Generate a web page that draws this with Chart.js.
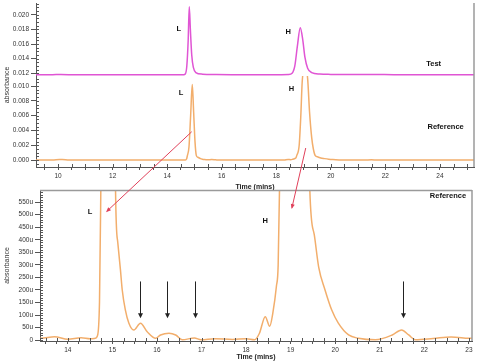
<!DOCTYPE html>
<html lang="en">
<head>
<meta charset="UTF-8">
<title>Test vs Reference chromatogram</title>
<script src="https://cdn.jsdelivr.net/npm/chart.js@4"></script>
<style>
  body { margin: 0; background: #fff; }
  #wrap { position: relative; width: 487px; height: 364px; overflow: hidden; }
  canvas { position: absolute; left: 0; }
</style>
</head>
<body>
<div id="wrap">
  <canvas id="testChart" width="487" height="80" style="top:0px"></canvas>
  <canvas id="refChart" width="487" height="118" style="top:76px"></canvas>
  <canvas id="zoomChart" width="487" height="179" style="top:185px"></canvas>
  <canvas id="overlay" width="487" height="364" style="top:0px"></canvas>
</div>
<script>
// --- Test trace (absorbance) ---
const testTime = [9.19, 9.8, 10.1, 10.6, 11.5, 12.5, 13.5, 14.55, 14.66, 14.72, 14.77, 14.81, 14.85, 14.90, 14.96, 15.05, 15.30, 15.8, 16.5, 17.5, 18.2, 18.45, 18.58, 18.68, 18.77, 18.88, 18.97, 19.05, 19.15, 19.30, 19.60, 20.0, 20.8, 21.5, 22.3, 23.2, 24.2, 25.25];
const testAbs  = [0.01180, 0.01181, 0.01183, 0.01180, 0.01179, 0.01181, 0.01180, 0.01180, 0.01190, 0.01300, 0.01650, 0.02110, 0.01800, 0.01450, 0.01280, 0.01210, 0.01188, 0.01183, 0.01181, 0.01180, 0.01180, 0.01182, 0.01200, 0.01300, 0.01560, 0.01822, 0.01660, 0.01420, 0.01270, 0.01210, 0.01190, 0.01185, 0.01182, 0.01184, 0.01181, 0.01180, 0.01181, 0.01180];

// --- Reference trace (micro absorbance units) ---
const refTime = [9.19, 9.8, 10.05, 10.15, 10.4, 11.5, 12.5, 13.4, 13.7, 14.0, 14.3, 14.5,
  14.62, 14.66, 14.71, 14.74, 14.80, 14.86, 14.92, 14.97, 15.02, 15.07,
  15.12, 15.18, 15.22, 15.29, 15.37, 15.48, 15.63, 15.78, 15.97,
  16.08, 16.27, 16.42, 16.57, 16.84, 16.99,
  17.3, 17.7, 18.0, 18.19,
  18.30, 18.43, 18.53, 18.60, 18.68, 18.72, 18.75,
  18.84, 18.90, 18.95, 19.05, 19.15, 19.22, 19.30, 19.36, 19.43,
  19.53, 19.63, 19.77, 19.92, 20.07, 20.30, 20.52, 20.90,
  21.28, 21.49, 21.65, 21.80,
  22.2, 22.6, 23.0, 23.6, 24.5, 25.25];
const refMicroAU = [6, 8, 90, 90, 8, 6, 8, 8, 14, 4, 10, 6,
  8, 16, 150, 600, 1800, 6000, 10200, 6500, 2500, 600,
  390, 281, 201, 121, 68, 41, 68, 34, 8,
  21, 28, 21, 2, 9, 2,
  6, 3, 6, 2,
  28, 94, 56, 108, 214, 300, 600,
  2000, 6000, 10500, 12800, 11000, 6500, 3000, 1500, 600,
  420, 290, 201, 121, 68, 21, 8, 2,
  21, 41, 21, 2,
  7, 13, 8, 6, 8, 6];

// peak labels (time, value on that panel)
const testNotes = [
  { text: 'L', t: 14.43, v: 0.01804 },
  { text: 'H', t: 18.44, v: 0.01759 },
  { text: 'Test', t: 23.77, v: 0.01324 }
];
const refNotes = [
  { text: 'L', t: 14.51, v: 0.0091 },
  { text: 'H', t: 18.56, v: 0.00955 },
  { text: 'Reference', t: 24.21, v: 0.00443 }
];
const zoomNotes = [
  { text: 'L', t: 14.50, v: 509 },
  { text: 'H', t: 18.43, v: 476 },
  { text: 'Reference', t: 22.53, v: 574 }
];
// minor peaks marked with arrows in the zoomed view
const minorPeakTimes = [15.63, 16.22, 16.85, 21.53];
// red links: [time, abs on top panel, time, microAU on zoom panel]
const linkL = [14.90, 0.00383, 14.88, 514];
const linkH = [19.08, 0.00163, 19.03, 528];

const FONT = '"Liberation Sans", Arial, sans-serif';
Chart.defaults.font.family = FONT;

function isMajor(v, m) { return Math.abs(v / m - Math.round(v / m)) < 1e-6; }

function yAxis(min, max, step, major, fmt, width, title) {
  return {
    type: 'linear', min: min, max: max,
    border: { color: '#555', width: 1 },
    grid: { drawOnChartArea: false, tickLength: 5, tickColor: c => (c.tick && isMajor(c.tick.value, major)) ? '#555' : 'rgba(0,0,0,0)' },
    ticks: { stepSize: step, autoSkip: false, includeBounds: false, padding: 2, color: '#333',
      font: { size: 6.5 }, callback: v => isMajor(v, major) ? fmt(v) : '' },
    title: { display: !!title, text: title || '', color: '#333', font: { size: 7 }, padding: { top: 3, bottom: 0 } },
    afterFit: s => { s.width = width; s.paddingTop = 0; s.paddingBottom = 0; }
  };
}

function xAxis(min, max, step, major, height) {
  return {
    type: 'linear', min: min, max: max,
    border: { color: '#555', width: 1 },
    grid: { drawOnChartArea: false, tickLength: 3, tickColor: '#555' },
    ticks: { stepSize: step, autoSkip: false, includeBounds: false, maxRotation: 0, padding: 2, color: '#333',
      font: { size: 6.5 }, callback: v => isMajor(v, major) ? String(Math.round(v)) : '' },
    title: { display: true, text: 'Time (mins)', color: '#222', font: { size: 7, weight: 'bold' }, padding: { top: 2, bottom: 3 } },
    afterFit: s => { s.height = height; s.paddingLeft = 0; s.paddingRight = 0; }
  };
}

// short inner tick marks on every tick
const innerTicks = {
  id: 'innerTicks',
  afterDraw(chart) {
    const ctx = chart.ctx;
    ctx.save();
    ctx.strokeStyle = '#555';
    ctx.lineWidth = 1;
    Object.values(chart.scales).forEach(s => {
      if (!s.options.display) return;
      s.ticks.forEach(tk => {
        const p = Math.round(s.getPixelForValue(tk.value)) + 0.5;
        ctx.beginPath();
        if (s.isHorizontal()) { ctx.moveTo(p, s.top); ctx.lineTo(p, s.top - 3); }
        else { ctx.moveTo(s.right, p); ctx.lineTo(s.right + 3, p); }
        ctx.stroke();
      });
    });
    ctx.restore();
  }
};

function frame(withTop) {
  return {
    id: 'frame',
    afterDraw(chart) {
      const { ctx, chartArea: a } = chart;
      ctx.save();
      ctx.strokeStyle = '#9a9a9a';
      ctx.lineWidth = 1.5;
      ctx.beginPath();
      if (withTop) { ctx.moveTo(a.left, a.top + 0.5); ctx.lineTo(a.right, a.top + 0.5); }
      ctx.moveTo(a.right, a.top); ctx.lineTo(a.right, a.bottom);
      ctx.stroke();
      ctx.restore();
    }
  };
}

function notes(labels, arrowTimes) {
  return {
    id: 'notes',
    afterDatasetsDraw(chart) {
      const { ctx, scales: { x, y } } = chart;
      ctx.save();
      ctx.fillStyle = '#111';
      ctx.font = 'bold 7.5px ' + FONT;
      ctx.textAlign = 'center';
      ctx.textBaseline = 'middle';
      labels.forEach(n => ctx.fillText(n.text, x.getPixelForValue(n.t), y.getPixelForValue(n.v)));
      ctx.strokeStyle = '#222';
      ctx.fillStyle = '#222';
      ctx.lineWidth = 1;
      arrowTimes.forEach(t => {
        const px = Math.round(x.getPixelForValue(t)) + 0.5;
        const y1 = y.getPixelForValue(234), y2 = y.getPixelForValue(88);
        ctx.beginPath(); ctx.moveTo(px, y1); ctx.lineTo(px, y2 - 4); ctx.stroke();
        ctx.beginPath(); ctx.moveTo(px - 2.5, y2 - 5); ctx.lineTo(px + 2.5, y2 - 5); ctx.lineTo(px, y2); ctx.closePath(); ctx.fill();
      });
      ctx.restore();
    }
  };
}

function line(xs, ys, color, scale) {
  return {
    data: xs.map((t, i) => ({ x: t, y: ys[i] * scale })),
    borderColor: color, borderWidth: 1.5, pointRadius: 0,
    cubicInterpolationMode: 'monotone', clip: 0
  };
}

const common = { responsive: false, animation: false, events: [],
  plugins: { legend: { display: false }, tooltip: { enabled: false } } };

const testChart = new Chart(document.getElementById('testChart'), {
  type: 'line',
  data: { datasets: [line(testTime, testAbs, '#e055d4', 1)] },
  options: Object.assign({}, common, {
    layout: { padding: { top: 3, right: 13, bottom: 4, left: 0 } },
    scales: {
      x: { type: 'linear', display: false, min: 9.19, max: 25.25 },
      y: yAxis(0.01163, 0.0216, 0.0005, 0.002, v => v.toFixed(3), 36)
    }
  }),
  plugins: [innerTicks, frame(false), notes(testNotes, [])]
});

const refChart = new Chart(document.getElementById('refChart'), {
  type: 'line',
  data: { datasets: [line(refTime, refMicroAU, '#f2ae6c', 1e-6)] },
  options: Object.assign({}, common, {
    layout: { padding: { top: 0, right: 13, bottom: 0, left: 0 } },
    scales: {
      x: xAxis(9.19, 25.25, 0.5, 2, 27),
      y: yAxis(-0.00093, 0.01135, 0.0005, 0.002, v => Math.abs(v).toFixed(3), 36)
    }
  }),
  plugins: [innerTicks, frame(false), notes(refNotes, [])]
});

const zoomChart = new Chart(document.getElementById('zoomChart'), {
  type: 'line',
  data: { datasets: [line(refTime, refMicroAU, '#f2ae6c', 1)] },
  options: Object.assign({}, common, {
    layout: { padding: { top: 5, right: 15, bottom: 0, left: 0 } },
    scales: {
      x: xAxis(13.375, 23.07, 0.25, 1, 23),
      y: yAxis(-3, 598, 10, 50, v => Math.round(v) === 0 ? '0' : Math.round(v) + 'u', 40, 'absorbance')
    }
  }),
  plugins: [innerTicks, frame(true), notes(zoomNotes, minorPeakTimes)]
});

// overlay: shared y title for the stacked panels and the red links
const ov = document.getElementById('overlay');
const octx = ov.getContext('2d');
const refTop = refChart.canvas.offsetTop, zoomTop = zoomChart.canvas.offsetTop;

octx.save();
octx.fillStyle = '#333';
octx.font = '7px ' + FONT;
octx.textAlign = 'center';
octx.textBaseline = 'middle';
octx.translate(7, (testChart.chartArea.top + refTop + refChart.chartArea.bottom) / 2);
octx.rotate(-Math.PI / 2);
octx.fillText('absorbance', 0, 0);
octx.restore();

function link(l) {
  const x1 = refChart.scales.x.getPixelForValue(l[0]);
  const y1 = refChart.scales.y.getPixelForValue(l[1]) + refTop;
  const x2 = zoomChart.scales.x.getPixelForValue(l[2]);
  const y2 = zoomChart.scales.y.getPixelForValue(l[3]) + zoomTop;
  const ang = Math.atan2(y2 - y1, x2 - x1);
  octx.save();
  octx.strokeStyle = '#e0405a';
  octx.fillStyle = '#e0405a';
  octx.lineWidth = 1;
  octx.beginPath(); octx.moveTo(x1, y1); octx.lineTo(x2, y2); octx.stroke();
  octx.translate(x2, y2); octx.rotate(ang);
  octx.beginPath(); octx.moveTo(1.5, 0); octx.lineTo(-3.5, -2); octx.lineTo(-3.5, 2); octx.closePath(); octx.fill();
  octx.restore();
}
link(linkL);
link(linkH);
</script>
</body>
</html>
